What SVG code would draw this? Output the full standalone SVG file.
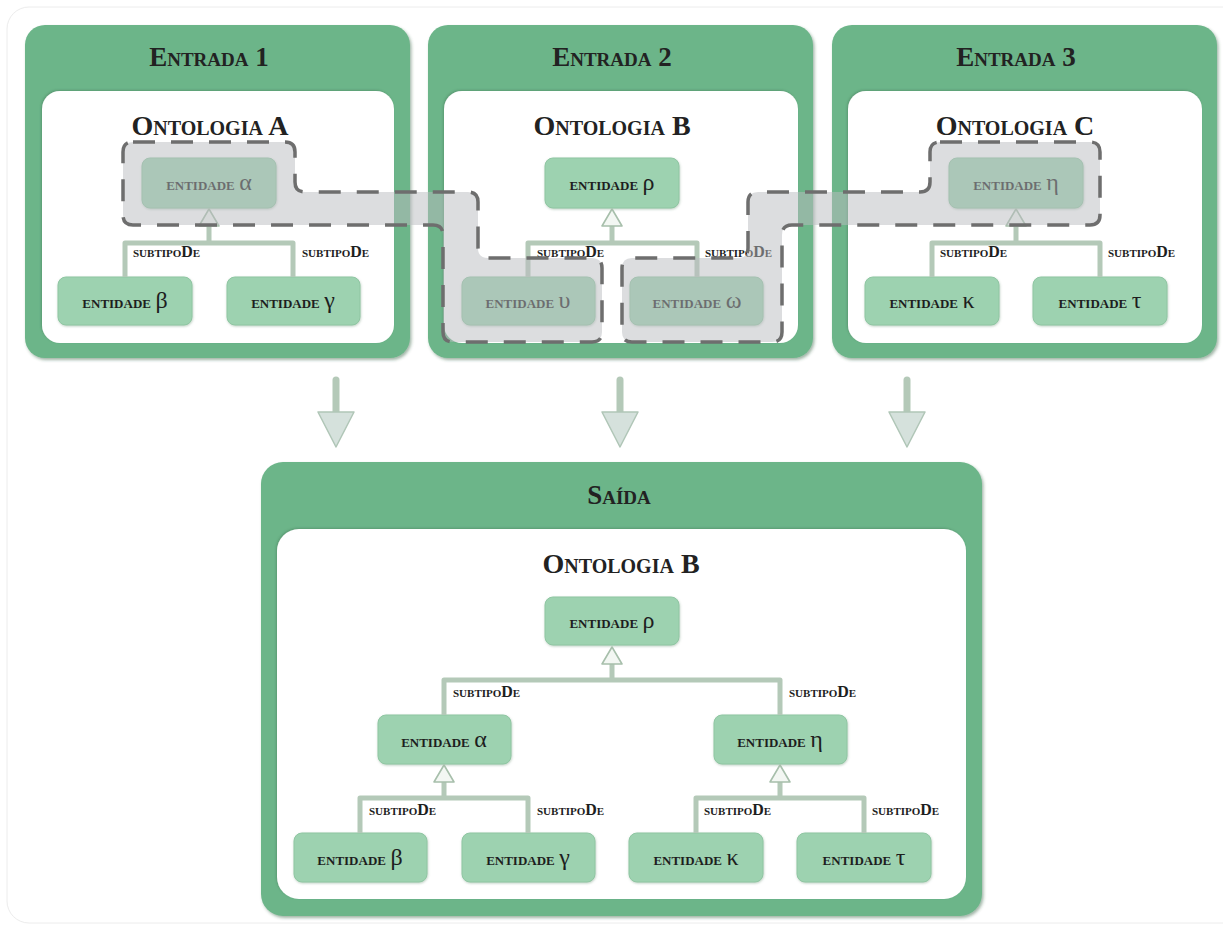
<svg xmlns="http://www.w3.org/2000/svg" xmlns:xlink="http://www.w3.org/1999/xlink" width="1223" height="926" viewBox="0 0 1223 926">
  <defs>
    <style>
      .frame { fill: #ffffff; stroke: #ececec; stroke-width: 1; }
      .panel { fill: #6cb589; filter: url(#shadow); }
      .inner { fill: #ffffff; filter: url(#innerShade); }
      .title { font-family: "Liberation Serif", "DejaVu Serif", serif; font-weight: bold; font-variant: small-caps; font-size: 27px; fill: #222222; text-anchor: middle; }
      .onto { font-family: "Liberation Serif", "DejaVu Serif", serif; font-weight: bold; font-variant: small-caps; font-size: 28px; fill: #222222; text-anchor: middle; }
      .node rect { fill: #9dd2b0; stroke: #8fc6a2; stroke-width: 1; filter: url(#nodeShadow); }
      .ntext { font-family: "Liberation Serif", "DejaVu Serif", serif; font-weight: bold; font-variant: small-caps; font-size: 18px; fill: #1e1e1e; text-anchor: middle; }
      .greek { font-variant: normal; font-weight: normal; font-size: 24px; }
      .label { font-family: "Liberation Serif", "DejaVu Serif", serif; font-weight: bold; font-variant: small-caps; font-size: 16px; fill: #1e1e1e; }
      .link { fill: none; stroke: #b4c9b8; stroke-width: 5; stroke-linejoin: round; }
      .stem { fill: none; stroke: #b4c9b8; stroke-width: 7; stroke-linecap: round; }
      .region { fill: #b9bbbf; fill-opacity: 0.5; stroke: #6e6e6e; stroke-width: 3.5; stroke-dasharray: 22 16; }
    </style>
    <filter id="shadow" x="-5%" y="-5%" width="110%" height="110%">
      <feDropShadow dx="1.5" dy="2" stdDeviation="1.5" flood-color="#2e5a3e" flood-opacity="0.45"/>
    </filter>
    <filter id="innerShade" x="-5%" y="-5%" width="110%" height="110%">
      <feDropShadow dx="-1" dy="-1" stdDeviation="1" flood-color="#3c6e4e" flood-opacity="0.4"/>
    </filter>
    <filter id="nodeShadow" x="-10%" y="-10%" width="120%" height="130%">
      <feDropShadow dx="0.5" dy="1" stdDeviation="0.8" flood-color="#5e8a6c" flood-opacity="0.4"/>
    </filter>
    <!-- hollow arrow tip of the subtipoDe links, tip at the origin pointing up -->
    <path id="tip" d="M0,0 L10,17 L-10,17 Z" fill="#f3f7f3" stroke="#a7bfab" stroke-width="1.6" stroke-linejoin="round"/>
    <!-- head of the large flow arrows, tip at the origin pointing down -->
    <path id="bigHead" d="M0,0 L-18,-35 L18,-35 Z" fill="#d5e1dc" stroke="#b0c6b7" stroke-width="1.5" stroke-linejoin="round"/>
  </defs>

  <rect class="frame" x="7" y="7" width="1240" height="916" rx="22"/>

  <!-- Entrada 1 -->
  <g id="entrada1">
    <rect class="panel" x="25" y="25" width="385" height="333" rx="20"/>
    <rect class="inner" x="42" y="91" width="352" height="252" rx="18"/>
    <text class="title" x="209" y="66">Entrada 1</text>
    <text class="onto" x="210" y="135">Ontologia A</text>
  </g>

  <!-- Entrada 2 -->
  <g id="entrada2">
    <rect class="panel" x="428" y="25" width="385" height="333" rx="20"/>
    <rect class="inner" x="444" y="91" width="354" height="252" rx="18"/>
    <text class="title" x="612" y="66">Entrada 2</text>
    <text class="onto" x="612" y="135">Ontologia B</text>
  </g>

  <!-- Entrada 3 -->
  <g id="entrada3">
    <rect class="panel" x="832" y="25" width="385" height="333" rx="20"/>
    <rect class="inner" x="848" y="91" width="354" height="252" rx="18"/>
    <text class="title" x="1016" y="66">Entrada 3</text>
    <text class="onto" x="1015" y="135">Ontologia C</text>
  </g>

  <!-- Saída -->
  <g id="saida">
    <rect class="panel" x="261" y="462" width="721" height="454" rx="22"/>
    <rect class="inner" x="277" y="529" width="689" height="370" rx="22"/>
    <text class="title" x="619" y="504">Saída</text>
    <text class="onto" x="621" y="573">Ontologia B</text>
  </g>

  <!-- entity nodes -->
  <g id="e1-alpha" class="node"><rect x="142" y="158" width="134" height="50" rx="8"/><text class="ntext" x="209" y="190">entidade <tspan class="greek">α</tspan></text></g>
  <g id="e1-beta" class="node"><rect x="58" y="277" width="134" height="48" rx="8"/><text class="ntext" x="125" y="308">entidade <tspan class="greek">β</tspan></text></g>
  <g id="e1-gamma" class="node"><rect x="227" y="277" width="133" height="48" rx="8"/><text class="ntext" x="293" y="308">entidade <tspan class="greek">γ</tspan></text></g>

  <g id="e2-rho" class="node"><rect x="545" y="158" width="134" height="50" rx="8"/><text class="ntext" x="612" y="190">entidade <tspan class="greek">ρ</tspan></text></g>
  <g id="e2-upsilon" class="node"><rect x="462" y="277" width="133" height="48" rx="8"/><text class="ntext" x="528" y="308">entidade <tspan class="greek">υ</tspan></text></g>
  <g id="e2-omega" class="node"><rect x="630" y="277" width="133" height="48" rx="8"/><text class="ntext" x="697" y="308">entidade <tspan class="greek">ω</tspan></text></g>

  <g id="e3-eta" class="node"><rect x="949" y="158" width="134" height="50" rx="8"/><text class="ntext" x="1016" y="190">entidade <tspan class="greek">η</tspan></text></g>
  <g id="e3-kappa" class="node"><rect x="865" y="277" width="134" height="48" rx="8"/><text class="ntext" x="932" y="308">entidade <tspan class="greek">κ</tspan></text></g>
  <g id="e3-tau" class="node"><rect x="1033" y="277" width="134" height="48" rx="8"/><text class="ntext" x="1100" y="308">entidade <tspan class="greek">τ</tspan></text></g>

  <g id="s-rho" class="node"><rect x="545" y="597" width="134" height="48" rx="8"/><text class="ntext" x="612" y="628">entidade <tspan class="greek">ρ</tspan></text></g>
  <g id="s-alpha" class="node"><rect x="378" y="715" width="133" height="49" rx="8"/><text class="ntext" x="444" y="747">entidade <tspan class="greek">α</tspan></text></g>
  <g id="s-eta" class="node"><rect x="714" y="715" width="133" height="49" rx="8"/><text class="ntext" x="780" y="747">entidade <tspan class="greek">η</tspan></text></g>
  <g id="s-beta" class="node"><rect x="294" y="833" width="133" height="49" rx="8"/><text class="ntext" x="360" y="865">entidade <tspan class="greek">β</tspan></text></g>
  <g id="s-gamma" class="node"><rect x="462" y="833" width="133" height="49" rx="8"/><text class="ntext" x="528" y="865">entidade <tspan class="greek">γ</tspan></text></g>
  <g id="s-kappa" class="node"><rect x="629" y="833" width="134" height="49" rx="8"/><text class="ntext" x="696" y="865">entidade <tspan class="greek">κ</tspan></text></g>
  <g id="s-tau" class="node"><rect x="797" y="833" width="134" height="49" rx="8"/><text class="ntext" x="864" y="865">entidade <tspan class="greek">τ</tspan></text></g>

  <!-- connectors: subtipoDe links and flow arrows -->
  <g id="connectors">
    <path class="link" d="M125,277 V243 H293 V277 M209,243 V224"/>
    <use xlink:href="#tip" x="209" y="209"/>
    <path class="link" d="M528,277 V243 H697 V277 M612,243 V224"/>
    <use xlink:href="#tip" x="612" y="209"/>
    <path class="link" d="M932,277 V243 H1100 V277 M1016,243 V224"/>
    <use xlink:href="#tip" x="1016" y="209"/>

    <path class="link" d="M444,715 V680 H780 V715 M612,680 V662"/>
    <use xlink:href="#tip" x="612" y="647"/>
    <path class="link" d="M360,833 V798 H528 V833 M444,798 V780"/>
    <use xlink:href="#tip" x="444" y="765"/>
    <path class="link" d="M696,833 V798 H864 V833 M780,798 V780"/>
    <use xlink:href="#tip" x="780" y="765"/>

    <path class="stem" d="M336,380 V414"/>
    <use xlink:href="#bigHead" x="336" y="447"/>
    <path class="stem" d="M620,380 V414"/>
    <use xlink:href="#bigHead" x="620" y="447"/>
    <path class="stem" d="M907,380 V414"/>
    <use xlink:href="#bigHead" x="907" y="447"/>

    <text class="label" x="133" y="257">subtipoDe</text>
    <text class="label" x="302" y="257">subtipoDe</text>
    <text class="label" x="537" y="257">subtipoDe</text>
    <text class="label" x="705" y="257">subtipoDe</text>
    <text class="label" x="940" y="257">subtipoDe</text>
    <text class="label" x="1108" y="257">subtipoDe</text>
    <text class="label" x="453" y="697">subtipoDe</text>
    <text class="label" x="789" y="697">subtipoDe</text>
    <text class="label" x="369" y="815">subtipoDe</text>
    <text class="label" x="537" y="815">subtipoDe</text>
    <text class="label" x="704" y="815">subtipoDe</text>
    <text class="label" x="872" y="815">subtipoDe</text>
  </g>

  <!-- dashed correspondence regions across the input ontologies -->
  <g id="mapping">
    <path class="region" d="M133,142 H285 Q295,142 295,152 V182 Q295,192 305,192 H468 Q478,192 478,202 V248 Q478,258 488,258 H592 Q602,258 602,268 V332 Q602,342 592,342 H453 Q443,342 443,332 V235 Q443,225 433,225 H133 Q123,225 123,215 V152 Q123,142 133,142 Z"/>
    <path class="region" d="M940,142 H1090 Q1100,142 1100,152 V215 Q1100,225 1090,225 H792 Q782,225 782,235 V332 Q782,342 772,342 H632 Q622,342 622,332 V268 Q622,258 632,258 H738 Q748,258 748,248 V202 Q748,192 758,192 H920 Q930,192 930,182 V152 Q930,142 940,142 Z"/>
  </g>
</svg>
